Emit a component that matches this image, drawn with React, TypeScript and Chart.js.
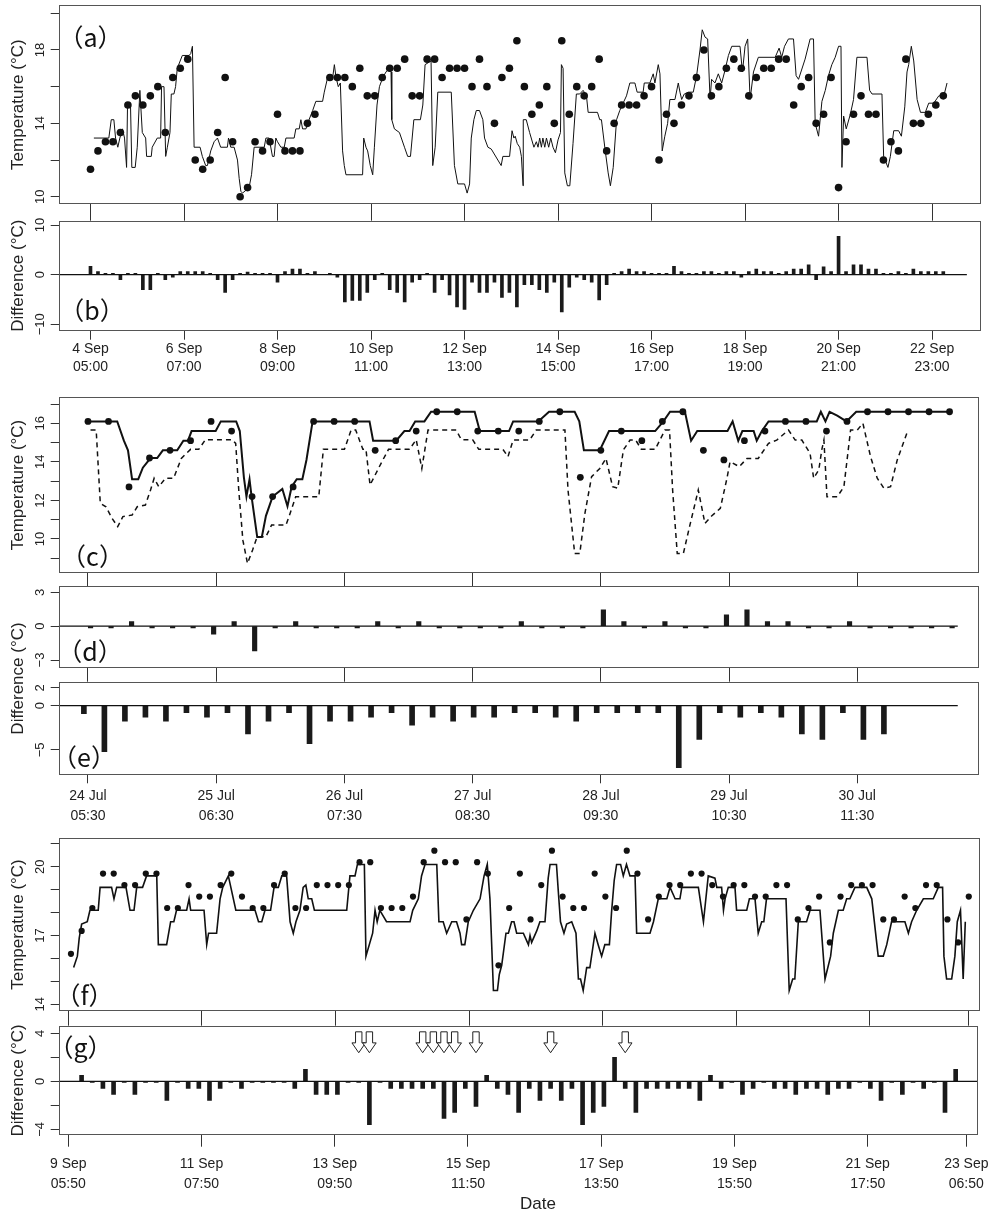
import React, { useEffect, useRef } from "react";
import { Chart, registerables } from "chart.js";
Chart.register(...registerables);

const SANS = "'Liberation Sans', Arial, Helvetica, sans-serif";
const CJK = "'Noto Sans CJK JP', 'Noto Sans', sans-serif";

// ---------------- Panels (a)/(b): hours since 4 Sep 05:00 ----------------
const sepATickHours = [0, 50, 100, 150, 200, 250, 300, 350, 400, 450];
const sepATickDates = ["4 Sep", "6 Sep", "8 Sep", "10 Sep", "12 Sep", "14 Sep", "16 Sep", "18 Sep", "20 Sep", "22 Sep"];
const sepATickTimes = ["05:00", "07:00", "09:00", "11:00", "13:00", "15:00", "17:00", "19:00", "21:00", "23:00"];
const sepAStepHours = 4;
const panelAObserved: (number | null)[] = [
  11.5, 12.5, 13.0, 13.0, 13.5, 15.0, 15.5, 15.0, 15.5, 16.0, 13.5, 16.5, 17.0, 17.5, 12.0, 11.5, 12.0, 13.5, 16.5, 13.0,
  10.0, 10.5, 13.0, 12.5, 13.0, 14.5, 12.5, 12.5, 12.5, 14.0, 14.5, null, 16.5, 16.5, 16.5, 16.0, 17.0, 15.5, 15.5, 16.5,
  17.0, 17.0, 17.5, 15.5, 15.5, 17.5, 17.5, 16.5, 17.0, 17.0, 17.0, 16.0, 17.5, 16.0, 14.0, 16.5, 17.0, 18.5, 16.0, 14.5,
  15.0, 16.0, 14.0, 18.5, 14.5, 16.0, 15.5, 16.0, 17.5, 12.5, 14.0, 15.0, 15.0, 15.0, 15.5, 16.0, 12.0, 14.5, 14.0, 15.0,
  15.5, 16.5, 18.0, 15.5, 16.0, 17.0, 17.5, 17.0, 15.5, 16.5, 17.0, 17.0, 17.5, 17.5, 15.0, 16.0, 16.5, 14.0, 14.5, 16.5,
  10.5, 13.0, 14.5, 15.5, 14.5, 14.5, 12.0, 13.0, 12.5, 17.5, 14.0, 14.0, 14.5, 15.0, 15.5,
];
const panelAEstimated: [number, number][] = [
  [1.8, 13.2], [9.8, 13.2], [11.1, 14.2], [12.5, 14.2], [13.4, 13.2], [14.6, 12.7], [15.7, 13.2], [17.1, 13.7], [18.2, 13.2],
  [19.3, 11.6], [19.8, 15.0], [21.4, 15.0], [22.1, 11.6], [23.9, 11.6], [25.0, 12.7], [26.4, 15.8], [27.7, 13.5], [29.5, 13.2],
  [30.0, 12.2], [32.5, 12.2], [33.0, 12.7], [35.7, 13.2], [37.5, 13.2], [38.0, 16.0], [39.3, 16.0], [40.2, 12.2], [41.1, 12.7],
  [42.5, 13.5], [43.2, 15.6], [44.6, 15.6], [45.5, 16.0], [46.4, 17.0], [49.1, 17.7], [52.7, 17.7], [53.6, 17.8], [54.5, 18.2],
  [55.4, 12.7], [58.6, 12.7], [59.8, 12.2], [61.6, 11.7], [62.5, 11.7], [64.3, 12.5], [66.1, 13.0], [67.9, 13.2], [69.6, 12.7],
  [73.2, 12.7], [73.8, 13.2], [75.0, 12.7], [76.8, 12.7], [78.6, 12.0], [79.5, 11.0], [80.4, 10.3], [81.3, 10.2], [84.8, 10.5],
  [86.1, 11.2], [87.5, 12.7], [92.9, 12.7], [93.8, 13.2], [95.5, 13.2], [97.3, 12.2], [98.2, 12.2], [99.1, 13.2], [100, 13.0],
  [101.8, 12.7], [103.6, 12.7], [104.5, 13.2], [108.9, 13.2], [109.8, 13.7], [111.6, 13.7], [112.5, 14.2], [113.4, 13.7],
  [115.2, 13.7], [116.1, 14.0], [118.8, 14.7], [120.5, 15.2], [124.1, 15.2], [125, 15.7], [126.8, 16.5], [129.5, 16.5],
  [130.4, 17.2], [131.3, 16.5], [132.5, 16.0], [133.6, 16.2], [134.8, 12.5], [135.7, 11.7], [136.6, 11.2], [145.5, 11.2],
  [146.1, 13.2], [147.3, 12.7], [148.2, 12.5], [149.6, 11.7], [150.9, 11.2], [151.8, 12.7], [153.2, 15.0], [154.5, 16.0],
  [156.3, 16.5], [158.0, 16.8], [159.8, 17.0], [160.7, 16.8], [161.1, 14.2], [162.5, 13.7], [165.2, 13.5], [167.9, 12.7],
  [169.6, 12.2], [171.1, 12.2], [172.9, 14.2], [176.4, 14.2], [177.7, 15.0], [178.9, 17.2], [182.1, 17.4], [183.0, 11.7],
  [184.3, 12.7], [185.7, 15.7], [192.9, 15.7], [194.6, 11.7], [196.4, 10.7], [200, 10.7], [201.4, 10.2], [202.7, 10.7],
  [203.6, 13.2], [205, 14.2], [206.3, 14.7], [208, 14.7], [209.8, 14.2], [210.7, 13.2], [212.5, 12.7], [214.3, 12.6],
  [219.6, 11.7], [220.5, 12.2], [224.1, 12.2], [225.4, 13.6], [226.4, 13.2], [227.1, 13.3], [228.2, 12.9], [229.5, 12.7],
  [230.4, 12.2], [231.3, 10.6], [231.4, 14.2], [233.0, 14.2], [234.8, 13.5], [237.1, 12.7], [238.4, 13.0], [239.3, 12.7],
  [240.2, 13.2], [241.1, 12.7], [241.9, 13.2], [242.9, 12.7], [243.8, 13.2], [245.0, 12.7], [246.1, 13.2], [247.3, 12.7],
  [248.6, 12.4], [250.0, 13.1], [251.3, 13.5], [251.8, 17.2], [252.7, 17.0], [253.6, 11.3], [255.0, 10.6], [256.3, 10.6],
  [258.0, 12.9], [259.8, 15.6], [261.6, 15.6], [263.4, 15.8], [265.2, 15.5], [266.1, 14.6], [271.1, 14.6], [272.3, 14.2],
  [273.2, 14.2], [275.0, 12.7], [276.8, 11.3], [278.0, 10.6], [279.5, 11.6], [281.3, 14.2], [283.0, 14.7], [284.8, 15.1],
  [286.6, 15.5], [288.4, 16.2], [291.1, 16.2], [292.3, 15.7], [295.5, 15.7], [296.1, 16.2], [299.1, 16.2], [300.9, 16.7],
  [301.8, 16.2], [303.6, 17.2], [304.5, 16.7], [305.7, 12.5], [307.1, 13.3], [308.6, 14.0], [309.8, 15.3], [312.5, 15.3],
  [314.3, 16.2], [315.2, 15.7], [316.1, 15.3], [317.5, 15.6], [319.6, 15.7], [322.3, 15.7], [324.1, 16.6], [325.9, 18.0],
  [327.1, 19.1], [328.6, 18.7], [330.0, 18.6], [331.3, 15.3], [332.1, 16.4], [333.9, 16.2], [335.7, 16.7], [337.5, 16.2],
  [339.3, 16.9], [341.1, 17.7], [342.9, 18.2], [347.3, 18.2], [348.6, 16.8], [350.0, 18.2], [351.4, 18.6], [352.7, 15.3],
  [354.5, 16.8], [357.1, 17.6], [366.1, 17.6], [368.2, 18.1], [369.6, 17.6], [371.1, 18.2], [373.2, 18.6], [375.9, 18.6],
  [377.3, 16.6], [378.6, 16.4], [382.1, 17.5], [384.8, 18.6], [386.6, 18.6], [387.5, 14.0], [389.3, 13.3], [391.1, 15.2],
  [392.9, 15.8], [394.6, 16.6], [396.4, 17.2], [398.2, 17.6], [400.0, 18.2], [401.3, 18.2], [401.8, 11.6], [402.7, 14.4],
  [404.1, 13.7], [406.3, 14.5], [408.0, 15.3], [409.8, 17.6], [415.2, 17.6], [416.6, 15.8], [417.9, 15.6], [423.2, 15.6],
  [424.1, 12.2], [426.4, 11.6], [427.7, 12.2], [429.5, 13.6], [432.1, 13.6], [433.6, 13.3], [435.4, 14.9], [436.6, 16.8],
  [437.5, 17.2], [438.9, 18.2], [440.2, 17.4], [442.0, 15.3], [443.8, 14.6], [446.4, 14.6], [448.2, 15.1], [450.9, 15.1],
  [453.6, 15.5], [456.3, 15.5], [458.0, 16.2],
];
const panelBDifference: (number | null)[] = [
  1.7, 0.6, 0.25, 0.25, -1.0, 0.25, 0.25, -3.0, -3.0, 0.25, -1.0, -0.5, 0.6, 0.6, 0.6, 0.6, 0.25, -1.0, -3.6, -1.0,
  0.25, 0.5, 0.25, 0.25, 0.25, -1.5, 0.6, 1.1, 1.1, 0.25, 0.6, null, 0.25, -0.5, -5.5, -5.2, -5.2, -3.6, -1.0, 0.25,
  -3.0, -3.6, -5.5, -1.5, -1.0, 0.25, -3.6, -1.0, -4.1, -6.5, -7.0, -1.5, -3.6, -3.6, -1.5, -4.6, -3.6, -6.5, -2.0, -2.0,
  -3.0, -3.6, -1.5, -7.5, -2.5, -0.5, -1.0, -1.5, -5.1, -2.0, 0.25, 0.6, 1.1, 0.6, 0.6, 0.25, 0.25, 0.25, 1.7, 0.6,
  0.25, 0.25, 0.6, 0.6, 0.25, 0.6, 0.6, -0.5, 0.6, 1.1, 0.6, 0.6, 0.25, 0.6, 1.1, 1.1, 2.0, -1.0, 1.6, 0.6,
  7.7, 0.6, 2.0, 2.0, 1.1, 1.1, 0.25, 0.25, 0.6, 0.25, 1.1, 0.6, 0.6, 0.6, 0.6,
];
const panelBZeroLineEnd = 468.6;

// ---------------- Panels (c)/(d)/(e): hours since 24 Jul 05:30 ----------------
const julTickHours = [0, 25, 50, 75, 100, 125, 150];
const julTickDates = ["24 Jul", "25 Jul", "26 Jul", "27 Jul", "28 Jul", "29 Jul", "30 Jul"];
const julTickTimes = ["05:30", "06:30", "07:30", "08:30", "09:30", "10:30", "11:30"];
const julStepHours = 4;
const panelDFirstHour = 0.5;
const panelEFirstHour = -0.8;
const panelCObserved = [
  16.1, 16.1, 12.7, 14.2, 14.6, 15.1, 16.1, 15.6, 12.2, 12.2, 12.7, 16.1, 16.1, 16.1, 14.6, 15.1, 15.6, 16.6, 16.6, 15.6,
  15.6, 15.6, 16.1, 16.6, 13.2, 14.6, 15.6, 15.1, 16.1, 16.6, 14.6, 14.1, 15.1, 15.6, 16.1, 16.1, 15.6, 16.1, 16.6, 16.6,
  16.6, 16.6, 16.6,
];
const panelCModel1: [number, number][] = [
  [0, 16.1], [5.7, 16.1], [7.0, 15.1], [7.8, 14.6], [8.6, 13.1], [9.8, 13.1], [10.7, 13.7], [12.2, 14.2], [13.5, 14.2],
  [14.6, 14.6], [17.4, 14.6], [18.6, 15.1], [19.5, 15.1], [20.2, 15.6], [24.9, 15.6], [25.9, 16.1], [28.9, 16.1], [29.6, 15.6],
  [30.4, 13.2], [30.9, 12.2], [31.5, 13.1], [31.9, 12.2], [33.0, 10.1], [33.9, 10.1], [34.7, 11.2], [36.0, 12.2], [37.9, 12.6],
  [38.9, 11.7], [39.7, 12.7], [40.7, 13.1], [41.8, 13.1], [42.6, 14.1], [43.8, 16.1], [54.9, 16.1], [55.6, 15.1], [60.1, 15.1],
  [61.7, 15.6], [62.7, 15.6], [63.8, 16.1], [65.6, 16.1], [66.9, 16.6], [75.4, 16.6], [76.4, 15.6], [82.1, 15.6], [82.9, 16.1],
  [87.8, 16.1], [89.9, 16.6], [94.9, 16.6], [95.8, 16.1], [96.7, 14.6], [99.8, 14.6], [101.6, 15.6], [110.6, 15.6],
  [112.2, 16.1], [113.5, 16.6], [116.4, 16.6], [117.6, 15.1], [118.8, 15.6], [124.7, 15.6], [125.7, 16.1], [126.8, 15.1],
  [127.6, 15.6], [129.8, 15.6], [130.4, 15.1], [131.4, 15.6], [132.7, 16.1], [142.1, 16.1], [142.9, 16.6], [143.8, 16.1],
  [144.6, 16.6], [146.1, 16.4], [147.9, 16.1], [149.8, 16.6], [168.1, 16.6],
];
const panelCModel2: [number, number][] = [
  [0.5, 15.65], [1.6, 15.65], [2.4, 11.85], [3.5, 11.67], [4.7, 11.07], [5.8, 10.64], [6.8, 11.16], [8.6, 11.24], [9.6, 11.67],
  [11.2, 11.76], [12.2, 12.54], [12.9, 13.15], [13.8, 12.71], [15.1, 13.15], [16.7, 13.15], [18.2, 14.18], [20.0, 14.65],
  [21.6, 14.65], [22.9, 15.15], [28.1, 15.15], [28.8, 14.96], [29.4, 12.54], [30.2, 9.94], [31.1, 8.73], [32.1, 9.43],
  [33.0, 10.12], [34.7, 10.12], [35.8, 10.72], [38.6, 10.72], [39.2, 11.16], [40.5, 12.19], [45.0, 12.19], [45.9, 14.65],
  [50.0, 14.65], [51.3, 15.65], [52.2, 15.65], [53.6, 14.65], [54.2, 14.65], [55.0, 12.8], [57.1, 13.9], [58.6, 14.65],
  [62.7, 14.65], [64.0, 15.15], [65.1, 13.66], [66.3, 15.65], [71.8, 15.65], [72.8, 15.15], [75.0, 15.15], [76.2, 14.65],
  [80.9, 14.65], [81.9, 14.27], [82.9, 15.13], [86.1, 15.13], [87.4, 15.65], [93.0, 15.65], [93.6, 12.54], [94.9, 9.25],
  [95.9, 9.25], [96.9, 11.33], [98.2, 13.23], [99.8, 13.66], [101.0, 14.18], [102.3, 12.71], [103.3, 12.63], [104.4, 14.62],
  [105.7, 15.13], [106.8, 15.13], [107.9, 14.65], [110.6, 14.65], [112.5, 15.65], [113.4, 15.65], [114.0, 12.54], [114.9, 9.25],
  [116.1, 9.25], [117.3, 10.64], [119.0, 12.54], [120.3, 10.81], [121.6, 11.19], [123.3, 11.59], [124.6, 13.15], [125.2, 14.01],
  [127.0, 13.75], [128.5, 14.18], [130.7, 14.18], [132.7, 14.96], [134.3, 15.13], [136.6, 15.65], [137.9, 15.13], [139.2, 15.13],
  [140.8, 14.44], [141.5, 13.15], [142.5, 13.58], [143.1, 14.65], [143.5, 15.13], [144.1, 12.19], [146.1, 12.19], [147.4, 12.71],
  [148.7, 15.65], [150.0, 15.65], [151.1, 16.0], [152.6, 14.27], [153.9, 13.15], [155.2, 12.63], [156.5, 12.71], [157.8, 14.1],
  [159.9, 15.65],
];
const panelDDifference = [
  -0.15, -0.15, 0.4, -0.15, -0.15, -0.15, -0.7, 0.4, -2.2, -0.15, 0.4, -0.15, -0.15, -0.15, 0.4, -0.15, 0.4, -0.15, -0.15, -0.15,
  -0.15, 0.4, -0.15, -0.15, -0.15, 1.45, 0.4, -0.15, 0.4, -0.15, -0.15, 1.0, 1.45, 0.4, 0.4, -0.15, -0.15, 0.4, -0.15, -0.15,
  -0.15, -0.15, -0.15,
];
const panelEDifference = [
  -0.9, -5.2, -1.75, -1.3, -1.75, -0.8, -1.3, -0.8, -3.2, -1.75, -0.8, -4.3, -1.75, -1.75, -1.3, -0.8, -2.2, -1.3, -1.75, -1.3,
  -1.3, -0.8, -0.8, -1.3, -1.75, -0.8, -0.8, -0.8, -0.8, -7.0, -3.8, -0.8, -1.3, -0.8, -1.3, -3.2, -3.8, -0.8, -3.8, -3.2,
];
const panelDEZeroLineEnd = 169.6;

// ---------------- Panels (f)/(g): hours since 9 Sep 05:50 ----------------
const sepBTickHours = [0, 50, 100, 150, 200, 250, 300, 337];
const sepBTickDates = ["9 Sep", "11 Sep", "13 Sep", "15 Sep", "17 Sep", "19 Sep", "21 Sep", "23 Sep"];
const sepBTickTimes = ["05:50", "07:50", "09:50", "11:50", "13:50", "15:50", "17:50", "06:50"];
const sepBStepHours = 4;
const panelFFirstHour = 1;
const panelGFirstHour = 5;
const panelFObserved = [
  16.2, 17.2, 18.2, 19.7, 19.7, 19.2, 19.2, 19.7, 19.7, 18.2, 18.2, 19.2, 18.7, 18.7, 19.2, 19.7, 18.7, 18.2, 18.2, 19.2,
  19.7, 18.2, 18.2, 19.2, 19.2, 19.2, 19.2, 20.2, 20.2, 18.2, 18.2, 18.2, 18.7, 20.2, 20.7, 20.2, 20.2, 17.7, 20.2, 19.7,
  15.7, 18.2, 19.7, 17.7, 19.2, 20.7, 18.7, 18.2, 18.2, 19.7, 18.7, 18.2, 20.7, 19.7, 17.7, 18.7, 19.2, 19.2, 19.7, 19.7,
  19.2, 18.7, 19.2, 19.2, 18.7, 18.7, 19.2, 19.2, 17.7, 18.2, 18.7, 16.7, 18.7, 19.2, 19.2, 19.2, 17.7, 17.7, 18.7, 18.2,
  19.2, 19.2, 17.7, 16.7, 18.7,
];
const panelFEstimated: [number, number][] = [
  [2.0, 15.6], [3.4, 16.1], [4.1, 16.9], [5.0, 17.5], [7.1, 17.6], [8.1, 18.1], [11.2, 18.1], [11.9, 19.1], [16.2, 19.1],
  [17.1, 18.6], [18.1, 19.1], [21.6, 19.1], [23.1, 18.1], [24.6, 18.1], [25.6, 19.1], [27.8, 19.1], [29.3, 19.6], [33.1, 19.6],
  [33.7, 16.6], [36.8, 16.6], [38.3, 17.6], [39.5, 17.6], [40.5, 18.1], [44.3, 18.1], [45.2, 18.6], [45.8, 18.1], [50.8, 18.1],
  [51.8, 16.6], [52.5, 17.1], [55.5, 17.1], [56.8, 18.6], [57.8, 19.1], [59.9, 19.6], [62.7, 18.1], [69.9, 18.1], [71.2, 17.6],
  [72.4, 17.6], [73.6, 18.1], [75.7, 18.1], [77.0, 19.1], [78.6, 19.1], [79.9, 19.6], [81.7, 19.6], [83.0, 17.6], [84.2, 17.1],
  [85.2, 17.6], [86.7, 18.1], [87.9, 19.1], [88.9, 19.2], [89.8, 18.6], [91.1, 18.6], [92.1, 18.1], [104.2, 18.1], [105.4, 19.6],
  [107.3, 19.6], [108.2, 20.1], [110.8, 20.1], [111.4, 16.1], [113.9, 17.1], [114.8, 18.1], [115.6, 17.6], [116.6, 18.1],
  [119.1, 17.6], [127.9, 17.6], [128.9, 18.1], [131.0, 18.6], [132.2, 19.6], [133.5, 20.1], [137.9, 20.1], [138.7, 17.6],
  [140.3, 17.6], [141.6, 17.1], [143.5, 17.6], [145.3, 17.6], [146.6, 17.1], [147.2, 16.6], [148.4, 16.6], [149.7, 17.6],
  [151.6, 18.1], [154.1, 18.6], [155.6, 19.6], [156.8, 20.1], [157.8, 18.6], [159.1, 14.6], [160.6, 14.6], [161.3, 15.3],
  [162.2, 15.7], [163.8, 17.1], [164.7, 17.1], [165.9, 17.6], [166.8, 17.6], [167.8, 17.1], [170.3, 17.1], [172.2, 16.6],
  [172.8, 17.0], [173.4, 16.7], [175.3, 17.2], [176.5, 17.6], [178.4, 17.6], [179.6, 19.5], [180.3, 20.1], [182.7, 20.1],
  [183.4, 18.9], [184.2, 17.6], [185.5, 17.1], [186.5, 17.5], [188.4, 17.6], [190.0, 17.1], [190.9, 15.1], [191.7, 15.1],
  [192.7, 14.6], [194.0, 15.6], [195.2, 15.6], [197.1, 17.1], [198.3, 16.6], [199.6, 16.1], [200.8, 16.6], [202.5, 16.6],
  [203.3, 18.0], [204.3, 19.4], [205.2, 20.1], [206.7, 20.1], [207.7, 19.6], [208.9, 20.1], [210.2, 19.6], [212.1, 19.6],
  [212.7, 17.1], [217.7, 17.1], [219.0, 17.6], [220.8, 18.6], [224.0, 18.6], [225.2, 19.1], [227.1, 18.6], [228.9, 18.6],
  [229.6, 19.1], [235.8, 19.1], [237.7, 17.6], [239.5, 19.6], [242.0, 19.5], [242.7, 19.1], [244.5, 19.1], [245.2, 18.1],
  [245.8, 18.6], [247.0, 19.1], [249.5, 19.1], [250.1, 18.1], [253.9, 18.1], [254.9, 18.6], [257.0, 18.6], [258.2, 17.1],
  [259.5, 17.6], [260.3, 17.6], [261.3, 18.6], [268.6, 18.6], [269.8, 14.6], [271.1, 15.1], [271.9, 15.1], [273.2, 17.6],
  [276.3, 17.6], [277.6, 18.1], [281.3, 18.1], [283.2, 15.1], [285.3, 16.1], [286.3, 17.1], [288.2, 18.1], [290.0, 18.1],
  [291.3, 18.6], [292.5, 18.6], [294.4, 19.1], [298.8, 19.1], [300.7, 18.6], [303.1, 16.1], [305.0, 16.1], [306.3, 16.6],
  [308.1, 17.6], [313.1, 17.6], [314.4, 17.1], [315.6, 17.6], [317.5, 18.1], [320.0, 18.6], [323.7, 18.6], [325.6, 19.1],
  [327.2, 19.1], [327.7, 16.1], [328.7, 15.1], [330.6, 15.1], [331.8, 16.1], [332.7, 17.6], [333.9, 18.1], [334.9, 15.1],
  [335.7, 17.6],
];
const panelGDifference = [
  0.5, -0.1, -0.6, -1.1, -0.1, -1.1, -0.1, -0.1, -1.6, -0.1, -0.6, -0.6, -1.6, -0.6, -0.1, -0.6, -0.1, -0.1, -0.1, -0.1,
  -0.6, 1.0, -1.1, -1.1, -1.1, -0.1, -0.1, -3.6, -0.1, -0.6, -0.6, -0.6, -0.6, -0.6, -3.1, -2.6, -0.6, -2.1, 0.5, -0.6,
  -1.1, -2.6, -0.6, -1.6, -0.6, -1.6, -0.6, -3.6, -2.6, -2.1, 2.0, -0.6, -2.6, -0.6, -0.6, -0.6, -0.6, -0.6, -1.6, 0.5,
  -0.6, -0.1, -1.1, -0.6, -0.1, -0.6, -0.6, -1.1, -0.6, -0.6, -1.1, -0.6, -0.6, -0.1, -0.6, -1.6, -0.1, -1.1, -0.1, -0.6,
  -0.1, -2.6, 1.0,
];
const panelGArrowHours = [109, 113, 133, 137, 141, 145, 153, 181, 209];
const panelGArrowTop = 4.12;
const panelGArrowHeadStart = 3.2;
const panelGArrowTip = 2.38;

// ---------------- helpers ----------------
const seriesPoints = (vals: (number | null)[], first: number, step: number) =>
  vals.map((v, i) => ({ x: first + i * step, y: v }));
const tuplePoints = (t: [number, number][]) => t.map(([x, y]) => ({ x, y }));
const twoLine = (a: string[], b: string[]) => a.map((d, i) => [d, b[i]]);

const dots = (data: any[], r: number) => ({
  type: "scatter", data, pointRadius: r, pointHoverRadius: r, backgroundColor: "#111", borderWidth: 0, pointStyle: "circle",
});
const line = (data: any[], w: number, dash: number[] = []) => ({
  type: "line", data, borderColor: "#111", borderWidth: w, borderDash: dash, pointRadius: 0, tension: 0, fill: false,
  spanGaps: false,
});
const bars = (data: any[], thick: number) => ({
  type: "bar", data, backgroundColor: "#1a1a1a", borderWidth: 0, barThickness: thick, grouped: false,
});

type Spec = {
  key: string;
  top: number;
  height: number;
  box: { l: number; r: number; t: number; b: number };
  xMin: number; xMax: number; yMin: number; yMax: number;
  xTicks: number[];
  xLabels: string[][] | null;
  xTickLen: number; xPad: number; xLineHeight: number;
  yTicks: number[];
  yLabels: [number, string][];
  title: { text: string; cy: number } | null;
  letter: { text: string; cx: number; cy: number };
  datasets: any[];
  extra?: (chart: any, spec: Spec) => void;
};

const G1 = { l: 58.7, r: 980.7, xMin: -17.0, xMax: 476.0 };
const G2 = { l: 58.7, r: 979.3, xMin: -5.71, xMax: 173.8 };
const G3 = { l: 58.7, r: 980.0, xMin: -3.59, xMax: 341.2 };

const specs: Spec[] = [
  {
    key: "a", top: 0, height: 222, box: { l: G1.l, r: G1.r, t: 5, b: 204.3 },
    xMin: G1.xMin, xMax: G1.xMax, yMin: 9.59, yMax: 20.45,
    xTicks: sepATickHours, xLabels: null, xTickLen: 16.4, xPad: 0, xLineHeight: 18,
    yTicks: [10, 12, 14, 16, 18, 20], yLabels: [[10, "10"], [14, "14"], [18, "18"]],
    title: { text: "Temperature (°C)", cy: 104.6 }, letter: { text: "（a）", cx: 90.5, cy: 37.5 },
    datasets: [
      dots(seriesPoints(panelAObserved, 0, sepAStepHours), 3.8),
      line(tuplePoints(panelAEstimated), 1),
    ],
  },
  {
    key: "b", top: 212, height: 170, box: { l: G1.l, r: G1.r, t: 220.7, b: 330.7 },
    xMin: G1.xMin, xMax: G1.xMax, yMin: -11.29, yMax: 10.87,
    xTicks: sepATickHours, xLabels: twoLine(sepATickDates, sepATickTimes), xTickLen: 9, xPad: 0.8, xLineHeight: 18,
    yTicks: [-10, 0, 10], yLabels: [[-10, "−10"], [0, "0"], [10, "10"]],
    title: { text: "Difference (°C)", cy: 275.7 }, letter: { text: "（b）", cx: 92, cy: 310.5 },
    datasets: [
      line([{ x: G1.xMin, y: 0 }, { x: panelBZeroLineEnd, y: 0 }], 1.3),
      bars(seriesPoints(panelBDifference, 0, sepAStepHours), 3),
    ],
  },
  {
    key: "c", top: 384, height: 204, box: { l: G2.l, r: G2.r, t: 397.3, b: 572.7 },
    xMin: G2.xMin, xMax: G2.xMax, yMin: 8.25, yMax: 17.35,
    xTicks: julTickHours, xLabels: null, xTickLen: 13.3, xPad: 0, xLineHeight: 18,
    yTicks: [9, 10, 11, 12, 13, 14, 15, 16, 17], yLabels: [[10, "10"], [12, "12"], [14, "14"], [16, "16"]],
    title: { text: "Temperature (°C)", cy: 485 }, letter: { text: "（c）", cx: 92.5, cy: 556 },
    datasets: [
      dots(seriesPoints(panelCObserved, 0, julStepHours), 3.4),
      line(tuplePoints(panelCModel1), 2),
      line(tuplePoints(panelCModel2), 1.5, [5, 4]),
    ],
  },
  {
    key: "d", top: 578, height: 106, box: { l: G2.l, r: G2.r, t: 586, b: 667.7 },
    xMin: G2.xMin, xMax: G2.xMax, yMin: -3.68, yMax: 3.56,
    xTicks: julTickHours, xLabels: null, xTickLen: 14, xPad: 0, xLineHeight: 18,
    yTicks: [-3, 0, 3], yLabels: [[-3, "−3"], [0, "0"], [3, "3"]],
    title: null, letter: { text: "（d）", cx: 90, cy: 651 },
    datasets: [
      line([{ x: G2.xMin, y: 0 }, { x: panelDEZeroLineEnd, y: 0 }], 1.3),
      bars(seriesPoints(panelDDifference, panelDFirstHour, julStepHours), 4.5),
    ],
  },
  {
    key: "e", top: 600, height: 230, box: { l: G2.l, r: G2.r, t: 681.7, b: 775 },
    xMin: G2.xMin, xMax: G2.xMax, yMin: -7.83, yMax: 2.71,
    xTicks: julTickHours, xLabels: twoLine(julTickDates, julTickTimes), xTickLen: 8.3, xPad: 3.2, xLineHeight: 19.5,
    yTicks: [-5, 0, 2], yLabels: [[-5, "−5"], [0, "0"], [2, "2"]],
    title: { text: "Difference (°C)", cy: 678.5 }, letter: { text: "（e）", cx: 84, cy: 757.5 },
    datasets: [
      line([{ x: G2.xMin, y: 0 }, { x: panelDEZeroLineEnd, y: 0 }], 1.3),
      bars(seriesPoints(panelEDifference, panelEFirstHour, julStepHours), 5),
    ],
  },
  {
    key: "f", top: 826, height: 200, box: { l: G3.l, r: G3.r, t: 838.3, b: 1010.7 },
    xMin: G3.xMin, xMax: G3.xMax, yMin: 13.72, yMax: 21.24,
    xTicks: sepBTickHours, xLabels: null, xTickLen: 15, xPad: 0, xLineHeight: 18,
    yTicks: [14, 15, 16, 17, 18, 19, 20, 21], yLabels: [[14, "14"], [17, "17"], [20, "20"]],
    title: { text: "Temperature (°C)", cy: 924.5 }, letter: { text: "（f）", cx: 84.5, cy: 995 },
    datasets: [
      dots(seriesPoints(panelFObserved, panelFFirstHour, sepBStepHours), 3.1),
      line(tuplePoints(panelFEstimated), 1.6),
    ],
  },
  {
    key: "g", top: 1016, height: 198, box: { l: G3.l, r: G3.r, t: 1025.7, b: 1135 },
    xMin: G3.xMin, xMax: G3.xMax, yMin: -4.47, yMax: 4.63,
    xTicks: sepBTickHours, xLabels: twoLine(sepBTickDates, sepBTickTimes), xTickLen: 11.7, xPad: 7.3, xLineHeight: 20,
    yTicks: [-4, -2, 0, 2, 4], yLabels: [[-4, "−4"], [0, "0"], [4, "4"]],
    title: { text: "Difference (°C)", cy: 1080.4 }, letter: { text: "（g）", cx: 80.5, cy: 1047.5 },
    datasets: [
      line([{ x: G3.xMin, y: 0 }, { x: G3.xMax, y: 0 }], 1.3),
      bars(seriesPoints(panelGDifference, panelGFirstHour, sepBStepHours), 4),
    ],
    extra: (chart: any) => {
      const ctx = chart.ctx;
      const xs = chart.scales.x;
      const ys = chart.scales.y;
      const yTop = ys.getPixelForValue(panelGArrowTop);
      const yHead = ys.getPixelForValue(panelGArrowHeadStart);
      const yTip = ys.getPixelForValue(panelGArrowTip);
      ctx.save();
      ctx.lineWidth = 1;
      ctx.strokeStyle = "#222";
      ctx.fillStyle = "#fff";
      panelGArrowHours.forEach((h) => {
        const x = xs.getPixelForValue(h);
        ctx.beginPath();
        ctx.moveTo(x - 3.2, yTop);
        ctx.lineTo(x + 3.2, yTop);
        ctx.lineTo(x + 3.2, yHead);
        ctx.lineTo(x + 6.8, yHead);
        ctx.lineTo(x, yTip);
        ctx.lineTo(x - 6.8, yHead);
        ctx.lineTo(x - 3.2, yHead);
        ctx.closePath();
        ctx.fill();
        ctx.stroke();
      });
      ctx.restore();
      ctx.save();
      ctx.fillStyle = "#222";
      ctx.font = `17px ${SANS}`;
      ctx.textAlign = "center";
      ctx.textBaseline = "middle";
      ctx.fillText("Date", 538, 1204 - 1016);
      ctx.restore();
    },
  },
];

function decor(spec: Spec) {
  return {
    id: "decor_" + spec.key,
    afterDraw(chart: any) {
      const ctx = chart.ctx;
      const { left, right, top, bottom } = chart.chartArea;
      ctx.save();
      ctx.strokeStyle = "#555";
      ctx.lineWidth = 1;
      const x0 = Math.round(left) + 0.5;
      const x1 = Math.round(right) - 0.5;
      const y0 = Math.round(top) + 0.5;
      const y1 = Math.round(bottom) - 0.5;
      ctx.strokeRect(x0, y0, x1 - x0, y1 - y0);
      ctx.restore();

      const ys = chart.scales.y;
      ctx.save();
      ctx.fillStyle = "#222";
      ctx.font = `13px ${SANS}`;
      ctx.textAlign = "center";
      ctx.textBaseline = "middle";
      spec.yLabels.forEach(([v, label]) => {
        const y = ys.getPixelForValue(v);
        ctx.save();
        ctx.translate(40.5, y);
        ctx.rotate(-Math.PI / 2);
        ctx.fillText(label, 0, 0);
        ctx.restore();
      });
      if (spec.title) {
        ctx.font = `17px ${SANS}`;
        ctx.save();
        ctx.translate(18, spec.title.cy - spec.top);
        ctx.rotate(-Math.PI / 2);
        ctx.fillText(spec.title.text, 0, 0);
        ctx.restore();
      }
      ctx.font = `25px ${CJK}`;
      ctx.fillStyle = "#111";
      ctx.fillText(spec.letter.text, spec.letter.cx, spec.letter.cy - spec.top);
      ctx.restore();
      if (spec.extra) spec.extra(chart, spec);
    },
  };
}

function Panel({ spec }: { spec: Spec }) {
  const ref = useRef<HTMLCanvasElement>(null);
  useEffect(() => {
    const canvas = ref.current;
    if (!canvas) return;
    const xAxisHeight = spec.top + spec.height - spec.box.b;
    const chart = new Chart(canvas, {
      type: "scatter",
      data: { datasets: spec.datasets as any },
      options: {
        animation: false,
        responsive: false,
        devicePixelRatio: 1,
        events: [],
        layout: {
          padding: { left: 0, right: 996 - spec.box.r, top: spec.box.t - spec.top, bottom: 0 },
        },
        plugins: { legend: { display: false }, tooltip: { enabled: false }, title: { display: false } },
        scales: {
          x: {
            type: "linear",
            position: "bottom",
            offset: false,
            min: spec.xMin,
            max: spec.xMax,
            afterBuildTicks: (s: any) => {
              s.ticks = spec.xTicks.map((v) => ({ value: v }));
            },
            afterFit: (s: any) => {
              s.height = xAxisHeight;
            },
            border: { display: false },
            grid: {
              offset: false,
              drawOnChartArea: false,
              drawTicks: true,
              tickLength: spec.xTickLen,
              color: "#333",
              lineWidth: 1,
            },
            ticks: {
              display: !!spec.xLabels,
              autoSkip: false,
              maxRotation: 0,
              minRotation: 0,
              padding: spec.xPad,
              color: "#222",
              font: { family: SANS, size: 14, lineHeight: spec.xLineHeight / 14 },
              callback: (_v: any, i: number) => (spec.xLabels ? spec.xLabels[i] : ""),
            },
          } as any,
          y: {
            type: "linear",
            position: "left",
            offset: false,
            beginAtZero: false,
            min: spec.yMin,
            max: spec.yMax,
            afterBuildTicks: (s: any) => {
              s.ticks = spec.yTicks.map((v) => ({ value: v }));
            },
            afterFit: (s: any) => {
              s.width = spec.box.l;
            },
            border: { display: false },
            grid: {
              offset: false,
              drawOnChartArea: false,
              drawTicks: true,
              tickLength: 8,
              color: "#333",
              lineWidth: 1,
            },
            ticks: { display: false },
          } as any,
        },
      },
      plugins: [decor(spec)],
    });
    return () => chart.destroy();
  }, [spec]);
  return (
    <canvas
      ref={ref}
      width={996}
      height={spec.height}
      style={{ position: "absolute", left: 0, top: spec.top, width: 996, height: spec.height, display: "block" }}
    />
  );
}

export default function App() {
  return (
    <div style={{ position: "absolute", left: 0, top: 0, width: 996, height: 1214, background: "#fff", overflow: "hidden" }}>
      {specs.map((s) => (
        <Panel key={s.key} spec={s} />
      ))}
    </div>
  );
}
